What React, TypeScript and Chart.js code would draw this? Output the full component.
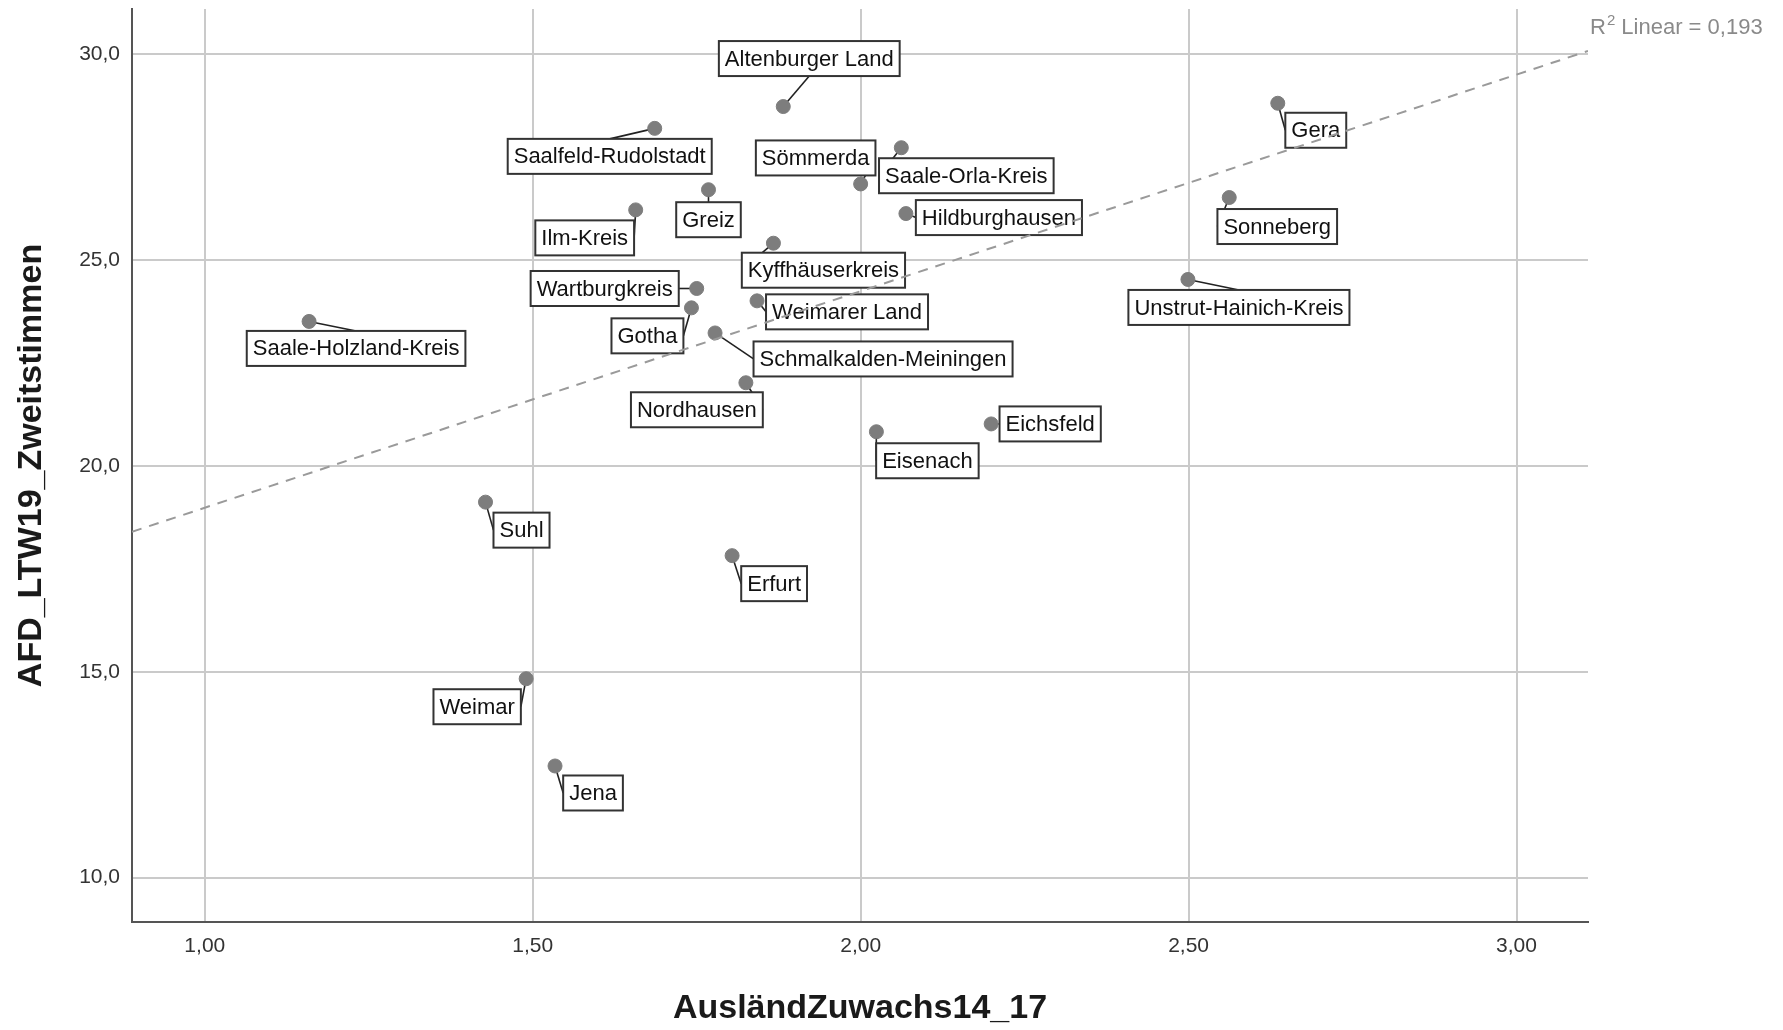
import React, { useEffect, useRef } from "react";
import { Chart, registerables } from "chart.js";

Chart.register(...registerables);

const districts = [
  "Altenburger Land", "Saalfeld-Rudolstadt", "Gera", "Saale-Orla-Kreis", "Sömmerda",
  "Greiz", "Ilm-Kreis", "Hildburghausen", "Sonneberg", "Kyffhäuserkreis",
  "Wartburgkreis", "Gotha", "Weimarer Land", "Unstrut-Hainich-Kreis", "Saale-Holzland-Kreis",
  "Schmalkalden-Meiningen", "Nordhausen", "Eichsfeld", "Eisenach", "Suhl",
  "Erfurt", "Weimar", "Jena",
];
const auslZuwachs = [
  1.882, 1.686, 2.636, 2.062, 2.0,
  1.768, 1.657, 2.069, 2.562, 1.867,
  1.75, 1.742, 1.842, 2.499, 1.159,
  1.778, 1.825, 2.199, 2.024, 1.428,
  1.804, 1.49, 1.534,
];
const afdZweit = [
  28.73, 28.2, 28.81, 27.73, 26.85,
  26.71, 26.22, 26.13, 26.52, 25.41,
  24.31, 23.84, 24.01, 24.53, 23.51,
  23.23, 22.02, 21.02, 20.83, 19.12,
  17.82, 14.83, 12.71,
];
// label box centre offsets from the point (layout, px)
const labelDx = [26, -45, 38, 65, -45, 0, -51, 93, 48, 50, -92, -44, 90, 51, 47, 168, -49, 59, 51, 36, 42, -49, 38];
const labelDy = [-48, 28, 27, 28, -26, 30, 28, 4, 29, 27, 0, 28, 11, 28, 27, 26, 27, 0, 29, 28, 28, 28, 27];

const xTicks = [1, 1.5, 2, 2.5, 3];
const yTicks = [10, 15, 20, 25, 30];
const fitX = [0.889, 3.109];
const fitY = [18.4, 30.08];
const r2Text = "0,193";

const FONT = '"Liberation Sans", Arial, sans-serif';

const labelPlugin = {
  id: "pointLabels",
  beforeDatasetsDraw(chart: any) {
    const ctx = chart.ctx;
    const xs = chart.scales.x;
    const ys = chart.scales.y;
    ctx.save();
    ctx.font = `22px ${FONT}`;
    districts.forEach((name, i) => {
      const px = xs.getPixelForValue(auslZuwachs[i]);
      const py = ys.getPixelForValue(afdZweit[i]);
      const tw = ctx.measureText(name).width;
      const w = tw + 12;
      const h = 35;
      const cx = px + labelDx[i];
      const cy = py + labelDy[i];
      const l = cx - w / 2;
      const t = cy - h / 2;
      const anchors = [
        [cx, t],
        [cx, t + h],
        [l, cy],
        [l + w, cy],
      ];
      let best = anchors[0];
      let bd = Infinity;
      for (const a of anchors) {
        const d = Math.hypot(a[0] - px, a[1] - py);
        if (d < bd) {
          bd = d;
          best = a;
        }
      }
      ctx.strokeStyle = "#222";
      ctx.lineWidth = 1.6;
      ctx.beginPath();
      ctx.moveTo(px, py);
      ctx.lineTo(best[0], best[1]);
      ctx.stroke();
      ctx.fillStyle = "#ffffff";
      ctx.fillRect(l, t, w, h);
      ctx.strokeStyle = "#333";
      ctx.lineWidth = 2;
      ctx.strokeRect(l, t, w, h);
      ctx.fillStyle = "#111";
      ctx.textAlign = "center";
      ctx.textBaseline = "middle";
      ctx.fillText(name, cx, cy + 1);
    });
    ctx.restore();
  },
  afterDraw(chart: any) {
    const ctx = chart.ctx;
    const x0 = chart.chartArea.right + 2;
    const y0 = 28;
    ctx.save();
    ctx.fillStyle = "#8a8a8a";
    ctx.textBaseline = "middle";
    ctx.textAlign = "left";
    ctx.font = `22px ${FONT}`;
    ctx.fillText("R", x0, y0);
    let x = x0 + ctx.measureText("R").width;
    ctx.font = `15px ${FONT}`;
    ctx.fillText("2", x + 1, y0 - 7);
    x += ctx.measureText("2").width + 1;
    ctx.font = `22px ${FONT}`;
    ctx.fillText(" Linear = " + r2Text, x, y0);
    ctx.restore();
  },
};

export default function App() {
  const ref = useRef<HTMLCanvasElement | null>(null);
  useEffect(() => {
    if (!ref.current) return;
    const points = auslZuwachs.map((v, i) => ({ x: v, y: afdZweit[i] }));
    const fit = fitX.map((v, i) => ({ x: v, y: fitY[i] }));
    const chart = new Chart(ref.current, {
      type: "scatter",
      data: {
        datasets: [
          {
            type: "line",
            data: fit,
            borderColor: "#9a9a9a",
            borderDash: [10, 8],
            borderWidth: 2,
            pointRadius: 0,
            fill: false,
            order: 1,
          } as any,
          {
            data: points,
            backgroundColor: "#7d7d7d",
            borderColor: "#7d7d7d",
            pointRadius: 7,
            order: 2,
          },
        ],
      },
      options: {
        responsive: false,
        animation: false,
        layout: { padding: { left: 0, right: 195, top: 9, bottom: 0 } },
        plugins: { legend: { display: false }, tooltip: { enabled: false } },
        scales: {
          x: {
            type: "linear",
            min: fitX[0],
            max: fitX[1],
            afterBuildTicks: (s: any) => {
              s.ticks = xTicks.map((v) => ({ value: v }));
            },
            afterFit: (s: any) => {
              s.height = 108;
              s.paddingLeft = 0;
              s.paddingRight = 0;
            },
            grid: { color: "#cacaca", lineWidth: 2, drawTicks: false },
            border: { color: "#555", width: 2 },
            ticks: {
              padding: 12,
              color: "#333",
              font: { family: FONT, size: 21 },
              callback: (v: any) => Number(v).toFixed(2).replace(".", ","),
            },
            title: {
              display: true,
              text: "AusländZuwachs14_17",
              color: "#1a1a1a",
              font: { family: FONT, size: 34, weight: "bold" },
              padding: { top: 0, bottom: 1 },
            },
          },
          y: {
            type: "linear",
            min: 8.92,
            max: 31.1,
            afterBuildTicks: (s: any) => {
              s.ticks = yTicks.map((v) => ({ value: v }));
            },
            afterFit: (s: any) => {
              s.width = 132;
              s.paddingTop = 0;
              s.paddingBottom = 0;
            },
            grid: { color: "#cacaca", lineWidth: 2, drawTicks: false },
            border: { color: "#555", width: 2 },
            ticks: {
              padding: 12,
              color: "#333",
              font: { family: FONT, size: 21 },
              callback: (v: any) => Number(v).toFixed(1).replace(".", ","),
            },
            title: {
              display: true,
              text: "AFD_LTW19_Zweitstimmen",
              color: "#1a1a1a",
              font: { family: FONT, size: 34, weight: "bold" },
              padding: { top: 11, bottom: 0 },
            },
          },
        },
      },
      plugins: [labelPlugin],
    });
    return () => chart.destroy();
  }, []);
  return (
    <div style={{ position: "fixed", left: 0, top: 0, width: 1783, height: 1030, background: "#fff" }}>
      <canvas ref={ref} width={1783} height={1030} style={{ display: "block", width: 1783, height: 1030 }} />
    </div>
  );
}
